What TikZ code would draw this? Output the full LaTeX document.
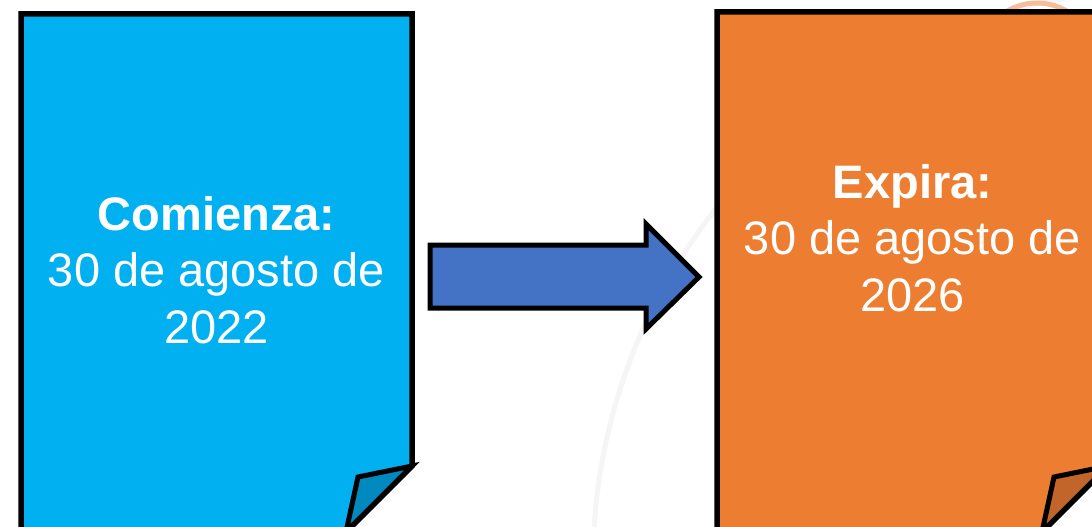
\documentclass[tikz,border=0pt]{standalone}
\usepackage{fontspec}
\setmainfont{Liberation Sans}
\usetikzlibrary{positioning}
\definecolor{startblue}{HTML}{00B0F0}
\definecolor{startfold}{HTML}{0089BF}
\definecolor{endorange}{HTML}{ED7D31}
\definecolor{endfold}{HTML}{C2652A}
\definecolor{arrowblue}{HTML}{4472C4}
\tikzstyle{page} = [draw=black, line width=5.5pt, line join=miter]
\tikzstyle{fold} = [draw=black, line width=5pt, line join=miter]
\tikzstyle{bigarrow} = [draw=black, fill=arrowblue, line width=5pt, line join=miter]
\tikzstyle{datelabel} = [text=white, align=center, inner sep=0pt, font=\fontsize{47}{56.5}\selectfont]

\begin{document}
\begin{tikzpicture}[x=1pt, y=-1pt]
            \useasboundingbox (0,0) rectangle (1092,527);
            \clip (0,0) rectangle (1092,527);
            \fill[white] (0,0) rectangle (1092,527);

            % faint ring behind
            \draw[black!4, line width=5pt] (1168,564) circle (575);
            \draw[endorange!50, line width=5pt] (1037,62) circle (59);

            % Pages
            \draw[page, fill=startblue] (21,14) -- (412,14) -- (412,466) -- (346,532) -- (21,532) -- cycle;
            \draw[fold, fill=startfold] (412,466) -- (358,477) -- (346,532) -- cycle;
            \draw[page, fill=endorange] (717,12) -- (1108,12) -- (1108,466) -- (1042,532) -- (717,532) -- cycle;
            \draw[fold, fill=endfold] (1108,466) -- (1054,477) -- (1042,532) -- cycle;

            % Arrow
            \draw[bigarrow] (430,245) -- (646,245) -- (646,224) -- (699,277)
                -- (646,329) -- (646,308) -- (430,308) -- cycle;

            % Labels
            \node[datelabel] (start) at (216.5,270) {\textbf{Comienza:}\\30 de agosto de\\2022};
            \node[datelabel] (expiry) at (912.5,238) {\textbf{Expira:}\\30 de agosto de\\2026};
        \end{tikzpicture}
\end{document}
